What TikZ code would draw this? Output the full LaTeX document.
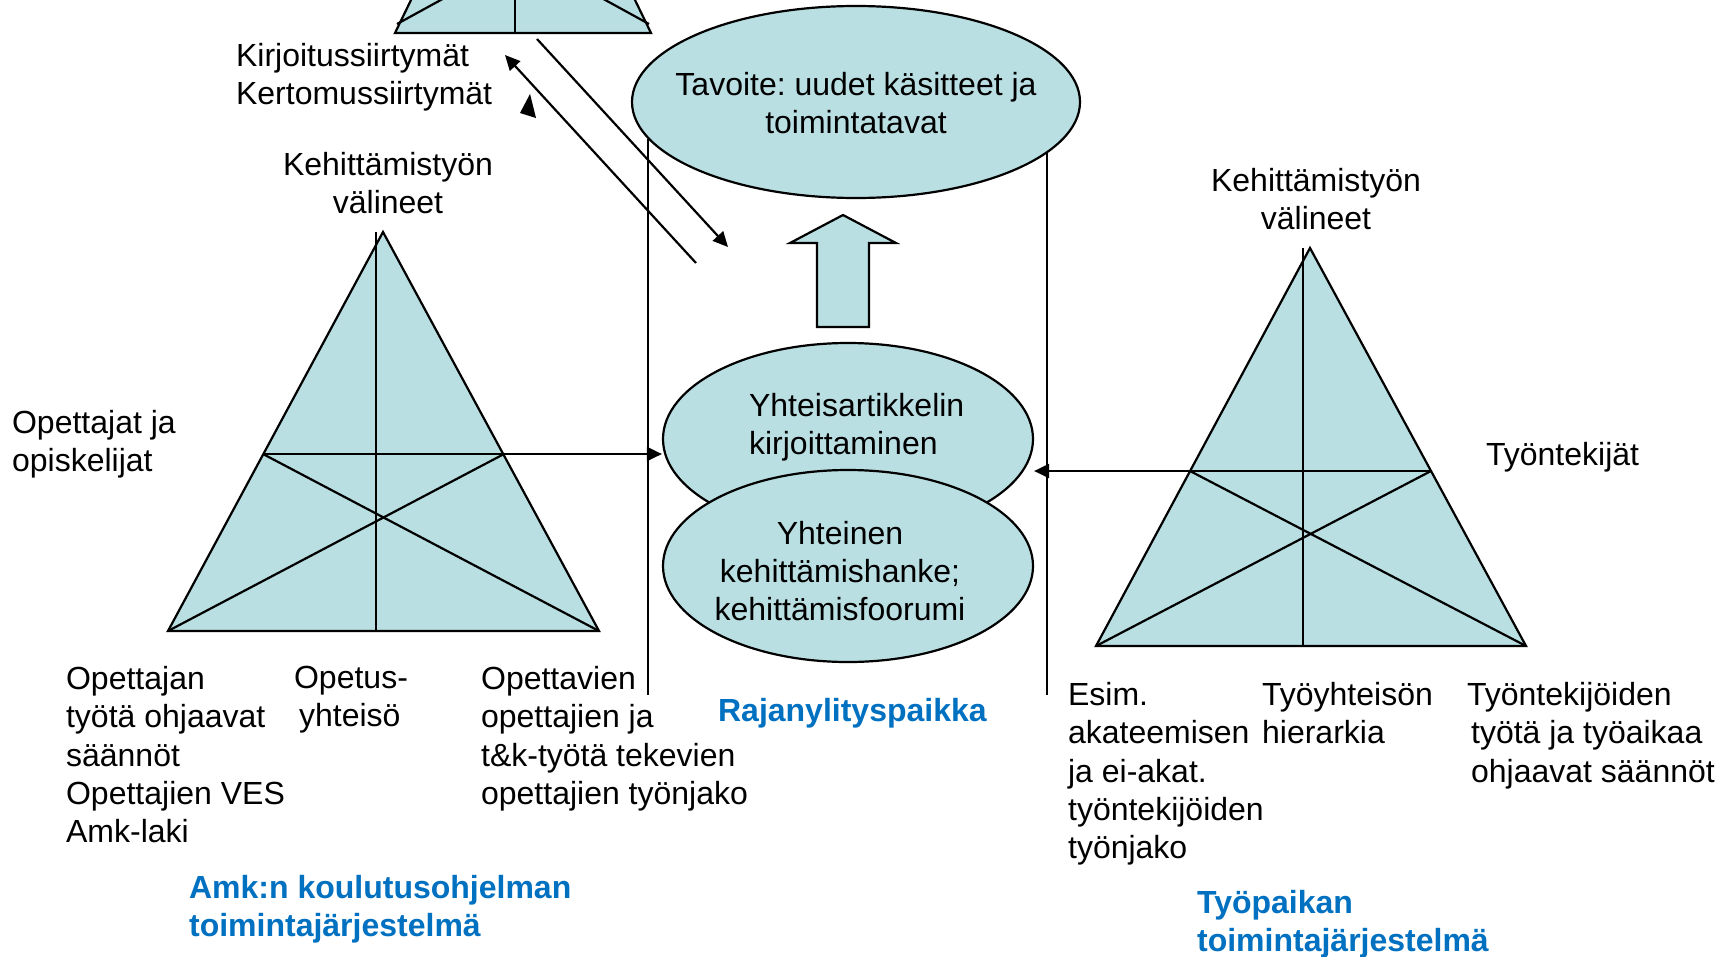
\documentclass[tikz,border=0pt]{standalone}
\usepackage{fontspec}
\setmainfont{Liberation Sans}
\usetikzlibrary{arrows.meta, positioning, shapes.geometric}
\definecolor{boxfill}{RGB}{185,223,227}
\definecolor{sysblue}{RGB}{0,112,192}
\frenchspacing

\begin{document}
\begin{tikzpicture}[x=1pt, y=-1pt, line width=2.2pt, >={Triangle[length=15pt, width=14pt]},
    font=\fontsize{32pt}{38.4pt}\selectfont,
    blob/.style={draw, ellipse, fill=boxfill, inner sep=0pt},
    tri/.style={draw, fill=boxfill, line join=miter},
    lbl/.style={align=left, anchor=north west, inner sep=0pt},
    sysname/.style={lbl, text=sysblue, font=\fontsize{32pt}{38.4pt}\selectfont\bfseries}]
    \useasboundingbox (0,0) rectangle (1729,956);
    \clip (0,0) rectangle (1729,956);

    \coordinate (ta) at (523,-231);
    \coordinate (tl) at (395,33);
    \coordinate (tr) at (651,33);
    \draw[tri] (ta) -- (tr) -- (tl) -- cycle;
    \draw (515,-231) -- (515,33);
    \draw (452,-84) -- (594,-84);
    \draw (397,24) -- (594,-84);
    \draw (452,-84) -- (649,24);

    \coordinate (la) at (383,232);
    \coordinate (ll) at (168,631);
    \coordinate (lr) at (599,631);
    \coordinate (lml) at (263,454);
    \coordinate (lmr) at (504,454);
    \draw[tri] (la) -- (lr) -- (ll) -- cycle;
    \draw (376,232) -- (376,631);
    \draw (lml) -- (lmr);
    \draw (ll) -- (lmr);
    \draw (lml) -- (lr);

    \coordinate (ra) at (1310,248);
    \coordinate (rl) at (1096,646);
    \coordinate (rr) at (1526,646);
    \coordinate (rml) at (1190,471);
    \coordinate (rmr) at (1431,471);
    \draw[tri] (ra) -- (rr) -- (rl) -- cycle;
    \draw (1303,248) -- (1303,646);
    \draw (rml) -- (rmr);
    \draw (rl) -- (rmr);
    \draw (rml) -- (rr);

    \node[blob, minimum width=448pt, minimum height=192pt] (goal) at (856,102) {};
    \node[align=center, inner sep=0pt] (goaltxt) at (856,103) {Tavoite: uudet käsitteet ja\\toimintatavat};
    \coordinate (zonebot) at (0,695);
    \draw (goal.190) -- (goal.190 |- zonebot);
    \draw (goal.345.5) -- (goal.345.5 |- zonebot);

    \node[blob, minimum width=370pt, minimum height=192pt] (art) at (848,439) {};
    \node[lbl] (arttxt) at (748,392) {Yhteisartikkelin\\kirjoittaminen};
    \node[blob, minimum width=370pt, minimum height=192pt] (proj) at (848,566) {};
    \node[align=center, inner sep=0pt] (projtxt) at (840,571) {Yhteinen\\kehittämishanke;\\kehittämisfoorumi};

    \draw[tri] (817,327) -- (817,243) -- (790,243) -- (843,215) -- (896,243) -- (869,243) -- (869,327) -- cycle;

    \coordinate (d1s) at (537,39);
    \coordinate (d1e) at (728,247);
    \coordinate (d2s) at (696,263);
    \coordinate (d2e) at (505,55);
    \draw[->] (d1s) -- (d1e);
    \draw[->] (d2s) -- (d2e);
    \fill (520,113) -- (530,94) -- (536,118) -- cycle;

    \draw[->] (lmr) -- (lmr -| art.west);
    \draw[->] (rml) -- (rml -| art.east);

    \node[lbl] (trans) at (235,42) {Kirjoitussiirtymät\\Kertomussiirtymät};
    \node[align=center, inner sep=0pt, above=17pt of la, xshift=5pt] (ltools) {Kehittämistyön\\välineet};
    \node[lbl] (lsubj) at (11,409) {Opettajat ja\\opiskelijat};
    \node[lbl] (lrules) at (65,665) {Opettajan\\työtä ohjaavat\\säännöt\\Opettajien VES\\Amk-laki};
    \node[lbl] (lcomm) at (293,665) {Opetus-\\\hspace*{5pt}yhteisö};
    \node[lbl] (ldiv) at (480,665) {Opettavien\\opettajien ja\\t\&k-työtä tekevien\\opettajien työnjako};
    \node[sysname] (lsys) at (188,874) {Amk:n koulutusohjelman\\toimintajärjestelmä};
    \node[sysname] (zone) at (717,697) {Rajanylityspaikka};

    \node[align=center, inner sep=0pt, above=17pt of ra, xshift=6pt] (rtools) {Kehittämistyön\\välineet};
    \node[lbl] (rsubj) at (1485,441) {Työntekijät};
    \node[lbl] (rdiv) at (1067,681) {Esim.\\akateemisen\\ja ei-akat.\\työntekijöiden\\työnjako};
    \node[lbl] (rcomm) at (1261,681) {Työyhteisön\\hierarkia};
    \node[lbl] (rrules) at (1466,681) {Työntekijöiden\\\hspace*{4pt}työtä ja työaikaa\\\hspace*{4pt}ohjaavat säännöt};
    \node[sysname] (rsys) at (1196,889) {Työpaikan\\toimintajärjestelmä};
\end{tikzpicture}
\end{document}
